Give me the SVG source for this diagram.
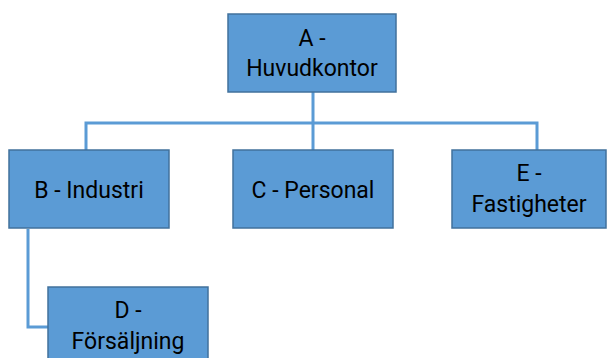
<svg xmlns="http://www.w3.org/2000/svg" width="607" height="358" viewBox="0 0 607 358">
<style>
.box{fill:#5B9BD5;stroke:#41719C;stroke-width:1.5}
.t{font-family:Roboto,"Liberation Sans",sans-serif;font-size:23px;fill:#000;text-anchor:middle}
.c{fill:none;stroke:#5B9BD5;stroke-width:3}
</style>
<rect width="607" height="358" fill="#fff"/>
<g id="connectors">
<path class="c" d="M313 92V123M86 150V123H537V150M313 123V150"/>
<path class="c" d="M28 229V327H48"/>
</g>
<g id="A"><rect class="box" x="228" y="14" width="168" height="78"/><text class="t" x="312" y="46">A -</text><text class="t" x="312" y="76">Huvudkontor</text></g>
<g id="B"><rect class="box" x="9" y="150" width="160" height="78"/><text class="t" x="89" y="198">B - Industri</text></g>
<g id="C"><rect class="box" x="233" y="150" width="160" height="78"/><text class="t" x="313" y="198">C - Personal</text></g>
<g id="E"><rect class="box" x="452" y="150" width="154" height="78"/><text class="t" x="529" y="181">E -</text><text class="t" x="529" y="212">Fastigheter</text></g>
<g id="D"><rect class="box" x="48" y="287" width="160" height="78"/><text class="t" x="128" y="318">D -</text><text class="t" x="128" y="349">Försäljning</text></g>
</svg>
